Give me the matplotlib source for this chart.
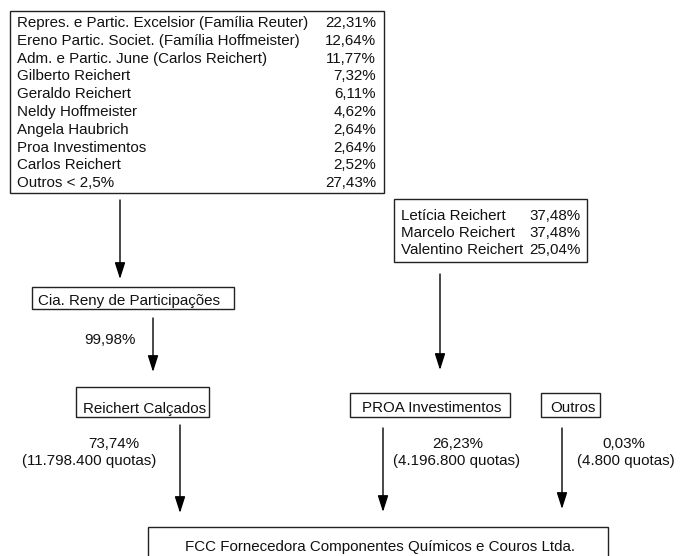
import matplotlib
matplotlib.use("Agg")
import matplotlib.pyplot as plt
from matplotlib.patches import Rectangle

plt.rcParams['font.family'] = ['Liberation Sans', 'DejaVu Sans']

# ---- data ----
reny_holders = ["Repres. e Partic. Excelsior (Família Reuter)",
                "Ereno Partic. Societ. (Família Hoffmeister)",
                "Adm. e Partic. June (Carlos Reichert)",
                "Gilberto Reichert", "Geraldo Reichert", "Neldy Hoffmeister",
                "Angela Haubrich", "Proa Investimentos", "Carlos Reichert",
                "Outros < 2,5%"]
reny_pcts = ["22,31%", "12,64%", "11,77%", "7,32%", "6,11%", "4,62%",
             "2,64%", "2,64%", "2,52%", "27,43%"]
proa_holders = ["Letícia Reichert", "Marcelo Reichert", "Valentino Reichert"]
proa_pcts = ["37,48%", "37,48%", "25,04%"]
reny_name = "Cia. Reny de Participações"
reny_to_reichert = "99,98%"
owners = ["Reichert Calçados", "PROA Investimentos", "Outros"]
owner_pcts = ["73,74%", "26,23%", "0,03%"]
owner_quotas = ["(11.798.400 quotas)", "(4.196.800 quotas)", "(4.800 quotas)"]
target = "FCC Fornecedora Componentes Químicos e Couros Ltda."

W, H = 686, 556
fig = plt.figure(figsize=(W / 100, H / 100), dpi=100)
ax = fig.add_axes([0, 0, 1, 1])
ax.set_xlim(0, W)
ax.set_ylim(H, 0)
ax.axis('off')

FS = 10.9
EC = '#222222'


def box(x0, y0, x1, y1):
    ax.add_patch(Rectangle((x0, y0), x1 - x0, y1 - y0, fill=False,
                           ec=EC, lw=1.0))


def arrow(x, y0, y1):
    ax.annotate('', xy=(x, y1), xytext=(x, y0),
                arrowprops=dict(arrowstyle='-|>,head_length=1.0,head_width=0.32',
                                color='black', lw=1.0, shrinkA=0, shrinkB=0))


def txt(x, y, s, ha='left'):
    ax.text(x, y, s, fontsize=FS, va='center_baseline', ha=ha, color='#111111')


# top shareholder box
box(10, 11, 384, 193)
for i, (n, p) in enumerate(zip(reny_holders, reny_pcts)):
    y = 21.5 + i * 17.8
    txt(17, y, n)
    txt(376, y, p, 'right')

# PROA shareholder box
box(394, 199, 587, 262)
for i, (n, p) in enumerate(zip(proa_holders, proa_pcts)):
    y = 214 + i * 17.3
    txt(401, y, n)
    txt(581, y, p, 'right')

# arrows top -> Reny, PROA holders -> PROA
arrow(120, 200, 279)
arrow(440, 274, 370)

# Cia Reny box
box(32, 287, 234, 309)
txt(38, 299, reny_name)

arrow(153, 318, 372)
txt(110, 338, reny_to_reichert, 'center')

# owner boxes
owner_boxes = [(76, 387, 209, 417), (350, 393, 510, 417), (541, 393, 600, 417)]
for (x0, y0, x1, y1), name in zip(owner_boxes, owners):
    box(x0, y0, x1, y1)
    txt((x0 + x1) / 2 + 2, 407, name, 'center')

# labels and arrows to target
pct_x = [114, 458, 624]
quota_x = [89, 457, 626]
arrow_x = [180, 383, 562]
arrow_y = [(425, 513), (428, 512), (428, 509)]
for i in range(3):
    txt(pct_x[i], 443, owner_pcts[i], 'center')
    txt(quota_x[i], 460, owner_quotas[i], 'center')
    arrow(arrow_x[i], arrow_y[i][0], arrow_y[i][1])

# target box
box(148, 527, 608, 570)
txt(380, 546, target, 'center')

fig.savefig('out.png', dpi=100, facecolor='white')
